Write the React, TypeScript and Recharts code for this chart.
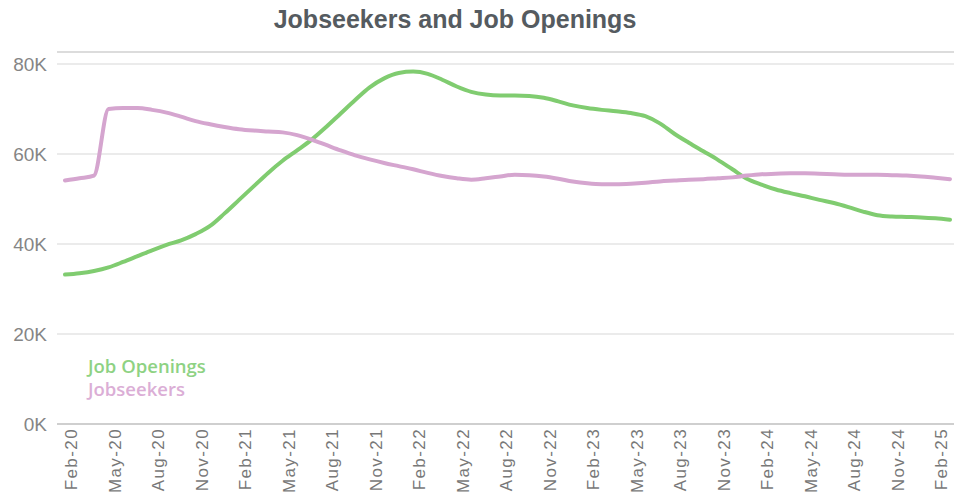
import React from 'react';
import { LineChart, Line, XAxis, YAxis, CartesianGrid, ReferenceLine } from 'recharts';

const months = [
  'Feb-20', 'Mar-20', 'Apr-20', 'May-20', 'Jun-20', 'Jul-20', 'Aug-20', 'Sep-20', 'Oct-20', 'Nov-20', 'Dec-20',
  'Jan-21', 'Feb-21', 'Mar-21', 'Apr-21', 'May-21', 'Jun-21', 'Jul-21', 'Aug-21', 'Sep-21', 'Oct-21', 'Nov-21', 'Dec-21',
  'Jan-22', 'Feb-22', 'Mar-22', 'Apr-22', 'May-22', 'Jun-22', 'Jul-22', 'Aug-22', 'Sep-22', 'Oct-22', 'Nov-22', 'Dec-22',
  'Jan-23', 'Feb-23', 'Mar-23', 'Apr-23', 'May-23', 'Jun-23', 'Jul-23', 'Aug-23', 'Sep-23', 'Oct-23', 'Nov-23', 'Dec-23',
  'Jan-24', 'Feb-24', 'Mar-24', 'Apr-24', 'May-24', 'Jun-24', 'Jul-24', 'Aug-24', 'Sep-24', 'Oct-24', 'Nov-24', 'Dec-24',
  'Jan-25', 'Feb-25', 'Mar-25',
];

// thousands
const jobOpenings = [
  33.2, 33.5, 34.0, 34.8, 36.0, 37.3, 38.6, 39.8, 40.8, 42.2, 44.0,
  46.8, 49.8, 52.8, 55.8, 58.5, 60.8, 63.2, 66.0, 69.0, 72.0, 74.8, 76.8,
  78.0, 78.3, 77.8, 76.5, 75.0, 73.8, 73.2, 73.0, 73.0, 72.9, 72.5, 71.7,
  70.8, 70.2, 69.8, 69.5, 69.1, 68.4, 66.8, 64.5, 62.5, 60.6, 58.7, 56.6,
  54.5, 53.2, 52.1, 51.3, 50.6, 49.8, 49.1, 48.2, 47.2, 46.4, 46.1, 46.0,
  45.9, 45.7, 45.4,
];

const jobseekers = [
  54.1, 54.6, 55.2, 70.0, 70.2, 70.2, 69.8, 69.2, 68.3, 67.3, 66.6,
  66.0, 65.5, 65.2, 65.0, 64.8, 64.2, 63.2, 62.0, 60.8, 59.7, 58.8, 58.0,
  57.3, 56.6, 55.8, 55.1, 54.6, 54.3, 54.6, 55.0, 55.4, 55.3, 55.0, 54.5,
  53.9, 53.5, 53.3, 53.3, 53.4, 53.6, 53.9, 54.1, 54.3, 54.4, 54.6, 54.8,
  55.2, 55.5, 55.6, 55.7, 55.7, 55.6, 55.5, 55.4, 55.4, 55.4, 55.3, 55.2,
  55.0, 54.7, 54.4,
];

const xTickLabels = [
  'Feb-20', 'May-20', 'Aug-20', 'Nov-20', 'Feb-21', 'May-21', 'Aug-21', 'Nov-21', 'Feb-22', 'May-22', 'Aug-22',
  'Nov-22', 'Feb-23', 'May-23', 'Aug-23', 'Nov-23', 'Feb-24', 'May-24', 'Aug-24', 'Nov-24', 'Feb-25',
];

const yTicks = [0, 20, 40, 60, 80];
const yTop = 82.66;

const seriesNames = ['Job Openings', 'Jobseekers'];
const seriesColors = ['#80cc70', '#d5a5cf'];
const legendColors = ['#8ed283', '#dbaed6'];

const data = months.map((m, i) => ({ month: m, openings: jobOpenings[i], seekers: jobseekers[i] }));

const XTick = (props: any) => {
  const { x, y, payload } = props;
  const bx = x + 12;
  return (
    <text
      x={bx}
      y={y}
      transform={`rotate(-90 ${bx} ${y})`}
      textAnchor="end"
      fill="#787878"
      fontSize={17}
      letterSpacing={1.4}
      fontFamily="'Liberation Sans', Arial, sans-serif"
    >
      {payload.value}
    </text>
  );
};

const YTick = (props: any) => {
  const { x, y, payload } = props;
  return (
    <text
      x={x}
      y={y}
      dy={7}
      textAnchor="end"
      fill="#858585"
      fontSize={19}
      fontFamily="'Liberation Sans', Arial, sans-serif"
    >
      {`${payload.value}K`}
    </text>
  );
};

export default function App() {
  return (
    <div style={{ position: 'absolute', left: 0, top: 0, width: 954, height: 502, background: '#fff' }}>
      <div
        style={{
          position: 'absolute',
          left: 0,
          top: 5,
          width: 910,
          textAlign: 'center',
          fontFamily: "'Liberation Sans', Arial, sans-serif",
          fontWeight: 700,
          fontSize: 25,
          color: '#555b60',
        }}
      >
        Jobseekers and Job Openings
      </div>
      <LineChart width={954} height={502} data={data} margin={{ top: 52, right: 0, bottom: 0, left: 0 }}>
        <CartesianGrid vertical={false} stroke="#e4e4e4" strokeWidth={1.5} />
        <ReferenceLine y={yTop} stroke="#dcdcdc" strokeWidth={2} ifOverflow="visible" />
        <XAxis
          dataKey="month"
          ticks={xTickLabels}
          interval={0}
          tick={<XTick />}
          tickSize={0}
          tickMargin={4}
          height={78}
          axisLine={{ stroke: '#cfcfcf', strokeWidth: 2 }}
          tickLine={false}
          padding={{ left: 8, right: 4 }}
        />
        <YAxis
          width={57}
          domain={[0, yTop]}
          ticks={yTicks}
          tick={<YTick />}
          tickSize={0}
          tickMargin={10}
          axisLine={false}
          tickLine={false}
          allowDataOverflow
        />
        <Line
          dataKey="openings"
          name={seriesNames[0]}
          type="monotone"
          stroke={seriesColors[0]}
          strokeWidth={4}
          dot={false}
          isAnimationActive={false}
          strokeLinecap="round"
        />
        <Line
          dataKey="seekers"
          name={seriesNames[1]}
          type="monotone"
          stroke={seriesColors[1]}
          strokeWidth={4}
          dot={false}
          isAnimationActive={false}
          strokeLinecap="round"
        />
      </LineChart>
      <div
        style={{
          position: 'absolute',
          left: 88,
          top: 354,
          fontFamily: "'Open Sans', sans-serif",
          fontSize: 18.5,
          fontWeight: 600,
          lineHeight: '23px',
        }}
      >
        {seriesNames.map((n, i) => (
          <div key={n} style={{ color: legendColors[i] }}>{n}</div>
        ))}
      </div>
    </div>
  );
}
